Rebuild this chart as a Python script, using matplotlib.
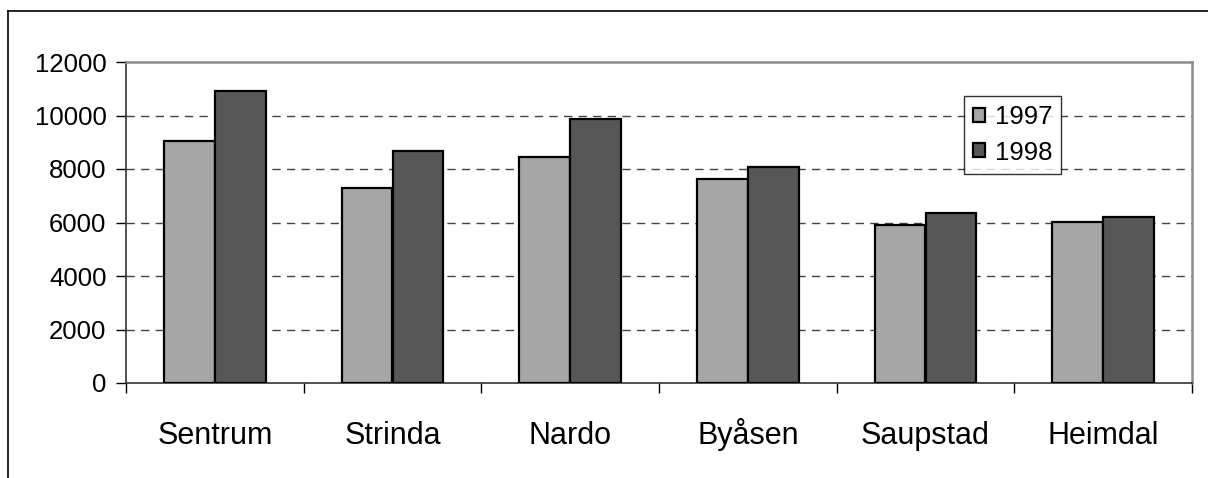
import numpy as np
import matplotlib.pyplot as plt
from matplotlib.lines import Line2D

plt.rcParams['font.family'] = ['Liberation Sans', 'DejaVu Sans']

categories = ['Sentrum', 'Strinda', 'Nardo', 'Byåsen', 'Saupstad', 'Heimdal']
years = ['1997', '1998']
values_1997 = [9050, 7280, 8460, 7615, 5905, 6020]
values_1998 = [10910, 8675, 9880, 8085, 6365, 6220]
y_ticks = [0, 2000, 4000, 6000, 8000, 10000, 12000]

fig = plt.figure(figsize=(12.08, 4.78), dpi=100)
ax = fig.add_axes([126 / 1208, 95 / 478, 1066 / 1208, 321 / 478])

x = np.arange(len(categories))
w = 0.287
ax.bar(x - w / 2, values_1997, w, color='#a6a6a6', edgecolor='black', linewidth=1.6, label=years[0], zorder=3)
ax.bar(x + w / 2, values_1998, w, color='#575757', edgecolor='black', linewidth=1.6, label=years[1], zorder=3)

ax.set_xlim(-0.5, len(categories) - 0.5)
ax.set_ylim(0, 12000)
ax.set_yticks(y_ticks)
ax.set_yticklabels([str(v) for v in y_ticks], fontsize=18.5)
ax.tick_params(axis='y', length=7, width=1, pad=7, color='black')

ax.set_xticks(x)
ax.set_xticklabels(categories, fontsize=22, va='baseline')
ax.tick_params(axis='x', which='major', length=0, pad=44)
ax.set_xticks(np.arange(len(categories) + 1) - 0.5, minor=True)
ax.tick_params(axis='x', which='minor', length=7, width=1, color='black')

for g in y_ticks[1:-1]:
    ax.axhline(g, color='#444444', linewidth=1, linestyle=(0, (6, 4.5)), zorder=1)

ax.spines['top'].set_color('#8c8c8c')
ax.spines['right'].set_color('#8c8c8c')
ax.spines['top'].set_linewidth(1.8)
ax.spines['right'].set_linewidth(1.8)
ax.spines['left'].set_color('#333333')
ax.spines['bottom'].set_color('#333333')
ax.spines['left'].set_linewidth(1.2)
ax.spines['bottom'].set_linewidth(1.2)

leg = ax.legend(loc='upper left', bbox_to_anchor=(964 / 1208, 1 - 96 / 478),
                bbox_transform=fig.transFigure, fontsize=18.5, frameon=True,
                fancybox=False, handlelength=0.45, handleheight=0.45,
                handletextpad=0.4, borderpad=0.35, labelspacing=0.45,
                borderaxespad=0)
leg.get_frame().set_edgecolor('black')
leg.get_frame().set_linewidth(1)

# outer frame (top and left edges of the pasted chart)
fig.add_artist(Line2D([8 / 1208, 1], [1 - 11 / 478, 1 - 11 / 478], color='black', linewidth=1.2))
fig.add_artist(Line2D([8 / 1208, 8 / 1208], [0, 1 - 11 / 478], color='black', linewidth=1.2))

fig.savefig('out.png', dpi=100)
